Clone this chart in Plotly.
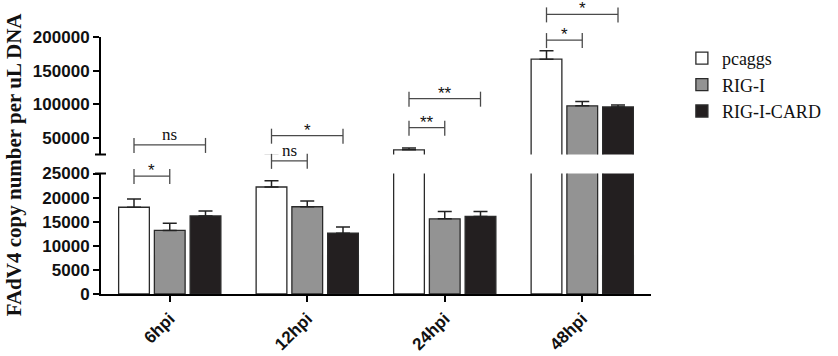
import plotly.graph_objects as go

categories = ["6hpi", "12hpi", "24hpi", "48hpi"]
series_names = ["pcaggs", "RIG-I", "RIG-I-CARD"]
pcaggs_vals = [18000, 22200, 32000, 167000]
pcaggs_err = [1700, 1300, 2500, 12500]
rigi_vals = [13200, 18100, 15600, 97500]
rigi_err = [1500, 1200, 1500, 6500]
card_vals = [16200, 12600, 16100, 95800]
card_err = [1000, 1300, 1000, 3000]

lower_ticks = [0, 5000, 10000, 15000, 20000, 25000]
upper_ticks = [50000, 100000, 150000, 200000]
lower_range = [0, 25000]
upper_range = [25000, 200000]

# significance brackets: (group index, bar a, bar b, label, level in paper units)
brackets = [
    (0, 0, 1, "*", 0.459),
    (0, 0, 2, "ns", 0.580),
    (1, 0, 1, "ns", 0.518),
    (1, 0, 2, "*", 0.616),
    (2, 0, 1, "**", 0.647),
    (2, 0, 2, "**", 0.760),
    (3, 0, 1, "*", 0.988),
    (3, 0, 2, "*", 1.088),
]

fills = ["#ffffff", "#939393", "#231f20"]
outline = "#2a2a2a"
values = [pcaggs_vals, rigi_vals, card_vals]
errors = [pcaggs_err, rigi_err, card_err]

BARGAP = 0.22
BARGROUPGAP = 0.14

fig = go.Figure()
for yax, show in (("y", True), ("y2", False)):
    for name, v, e, c in zip(series_names, values, errors, fills):
        fig.add_trace(go.Bar(
            x=list(range(len(categories))), y=v, name=name,
            xaxis="x", yaxis=yax, showlegend=show,
            marker=dict(color=c, line=dict(color=outline, width=1.3)),
            error_y=dict(type="data", array=e, arrayminus=[0] * len(e), symmetric=False,
                         color="#222222", thickness=1.5, width=7),
        ))

plot_h = 257.0
plot_w = 552.0
px = 1.0 / plot_h
slot = (1 - BARGAP) / 3.0
shapes = []
annotations = []
line_col = "#4a4a4a"
for g, a, b, label, lvl in brackets:
    x1 = g + (a - 1) * slot
    x2 = g + (b - 1) * slot
    shapes.append(dict(type="line", xref="x", yref="paper", x0=x1, x1=x2, y0=lvl, y1=lvl,
                       line=dict(color=line_col, width=1.3)))
    for xx in (x1, x2):
        shapes.append(dict(type="line", xref="x", yref="paper", x0=xx, x1=xx,
                           y0=lvl - 8 * px, y1=lvl + 7 * px, line=dict(color=line_col, width=1.3)))
    if label == "ns":
        annotations.append(dict(x=(x1 + x2) / 2, y=lvl, xref="x", yref="paper", text=label,
                                showarrow=False, yanchor="bottom", yshift=-1,
                                font=dict(family="Liberation Serif", size=17, color="#111")))
    else:
        annotations.append(dict(x=(x1 + x2) / 2, y=lvl, xref="x", yref="paper", text=label,
                                showarrow=False, yanchor="bottom", yshift=-6,
                                font=dict(family="Liberation Sans", size=17, color="#111")))

# axis break caps
for yv in ((294 - 154.5) / plot_h, (294 - 173.5) / plot_h):
    shapes.append(dict(type="line", xref="paper", yref="paper", x0=-6 / plot_w, x1=5 / plot_w,
                       y0=yv, y1=yv, line=dict(color="black", width=2)))

annotations.append(dict(x=-87 / plot_w, y=(294 - 164) / plot_h, xref="paper", yref="paper",
                        xanchor="center", yanchor="middle",
                        text="<b>FAdV4 copy number per uL DNA</b>", textangle=-90, showarrow=False,
                        font=dict(family="Liberation Serif", size=21, color="#111")))

tickfont = dict(family="Liberation Sans", size=17, color="#111")
axis_common = dict(showline=True, linecolor="black", linewidth=2, ticks="outside", ticklen=6,
                   tickwidth=2, tickcolor="black", showgrid=False, zeroline=False,
                   automargin=False)
fig.update_layout(
    width=838, height=356,
    margin=dict(l=101, r=185, t=37, b=62),
    paper_bgcolor="white", plot_bgcolor="white",
    barmode="group", bargap=BARGAP, bargroupgap=BARGROUPGAP,
    showlegend=True,
    legend=dict(x=(684 - 101) / plot_w, y=(294 - 40) / plot_h, xanchor="left", yanchor="top",
                font=dict(family="Liberation Serif", size=18, color="#111"),
                bgcolor="rgba(0,0,0,0)", itemwidth=30),
    xaxis=dict(range=[-0.5, 3.5], tickmode="array", tickvals=list(range(len(categories))),
               ticktext=["<b>%s</b>" % c for c in categories], tickangle=-45,
               tickfont=dict(family="Liberation Sans", size=17, color="#111"), anchor="y",
               **axis_common),
    yaxis=dict(domain=[0, (294 - 173.5) / plot_h], range=lower_range, tickmode="array",
               tickvals=lower_ticks, ticktext=["<b>%d</b>" % t for t in lower_ticks],
               tickfont=tickfont, anchor="x", **axis_common),
    yaxis2=dict(domain=[(294 - 154.5) / plot_h, 1], range=upper_range, tickmode="array",
                tickvals=upper_ticks, ticktext=["<b>%d</b>" % t for t in upper_ticks],
                tickfont=tickfont, anchor="x", **axis_common),
    shapes=shapes, annotations=annotations,
)

# remove the browser's default 8px page margin so the figure sits at the window origin
fig.write_html("out.html", config={"displayModeBar": False},
               post_script="document.body.style.margin='0';")
